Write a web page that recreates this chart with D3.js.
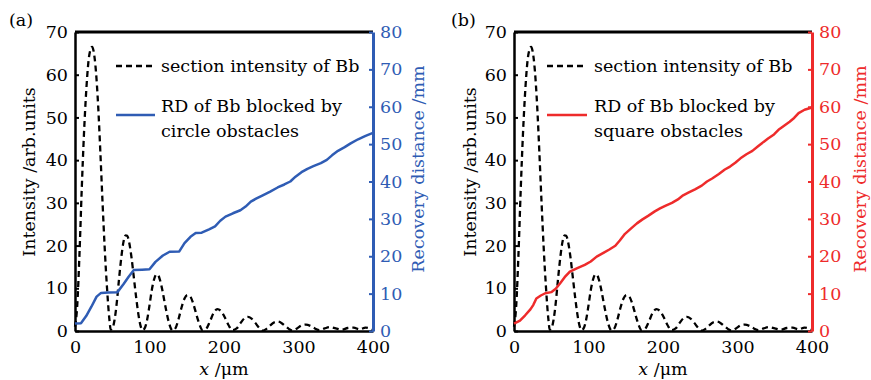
<!DOCTYPE html>
<html>
<head>
<meta charset="utf-8">
<script src="https://cdn.jsdelivr.net/npm/d3@7/dist/d3.min.js"></script>
<style>
  body { margin: 0; background: #fff; }
</style>
</head>
<body>
<script>
// chart size
var w = 871, h = 380;
var FONT = "DejaVu Serif", FS = 17.5;

// tick values
var xTicks = [0, 100, 200, 300, 400];
var intensityTicks = [0, 10, 20, 30, 40, 50, 60, 70];
var rdTicks = [0, 10, 20, 30, 40, 50, 60, 70, 80];

// section intensity of Bb
var intensityX = [0, 3, 6, 9, 12, 15, 18, 21, 23, 25, 28, 31, 34, 37, 40, 43, 46, 48,
  50, 53, 56, 59, 62, 65, 68, 70, 73, 76, 79, 82, 85, 88, 91,
  94, 97, 100, 103, 106, 109, 111, 114, 117, 120, 123, 126, 129, 131,
  135, 139, 143, 147, 151, 155, 159, 163, 167, 171,
  176, 181, 186, 191, 196, 201, 206, 211,
  217, 222, 227, 232, 237, 242, 247, 252,
  257, 262, 267, 272, 277, 282, 287, 292,
  298, 304, 310, 316, 322, 328,
  335, 342, 350, 358, 366, 374, 382, 390, 396, 400];
var intensityY = [1, 6, 18, 33, 46, 56, 63, 66, 66.5, 65.5, 61, 53, 42, 30, 19, 10, 3, 0.3,
  0.5, 2.5, 6.5, 12, 17, 20.8, 22.4, 22.3, 20.5, 17, 12.5, 8, 4, 1.2, 0.2,
  0.8, 2.8, 6, 9.5, 12, 13.2, 13.2, 12, 9.8, 7, 4.3, 2, 0.5, 0.1,
  0.7, 2.8, 5.5, 7.6, 8.4, 8, 6.3, 3.8, 1.6, 0.2,
  0.5, 2.2, 4.2, 5.1, 4.7, 3.2, 1.4, 0.2,
  0.6, 1.8, 2.9, 3.3, 2.9, 1.9, 0.8, 0.1,
  0.5, 1.3, 2, 2.2, 1.9, 1.2, 0.5, 0.1,
  0.6, 1.3, 1.5, 1.2, 0.6, 0.2,
  0.6, 0.9, 0.6, 0.3, 0.7, 0.8, 0.4, 0.8, 0.6, 0.3];

// recovery distance, circle obstacles (a)
var circleX = [0, 8, 15, 22, 29, 35, 45, 57, 65, 72, 79, 90, 100, 108, 118, 127, 140, 147, 155, 162, 170,
  180, 188, 195, 202, 212, 222, 229, 236, 243, 252, 262, 272, 281, 289, 296, 304, 312, 320, 330,
  338, 345, 353, 362, 370, 380, 390, 400];
var circleRD = [2, 2.1, 4, 6.5, 9.2, 10.2, 10.3, 10.4, 12.5, 14.5, 16.3, 16.4, 16.5, 18.5, 20.2, 21.2, 21.3, 23.5, 25.2, 26.2, 26.3,
  27.2, 28, 29.5, 30.6, 31.5, 32.3, 33.3, 34.6, 35.4, 36.3, 37.3, 38.4, 39.2, 40, 41.3, 42.5, 43.4, 44.1, 44.9,
  45.8, 47, 48.2, 49.2, 50.2, 51.3, 52.2, 53];

// recovery distance, square obstacles (b)
var squareX = [0, 8, 15, 22, 26, 30, 36, 42, 50, 56, 62, 68, 75, 85, 95, 103, 111, 120, 128, 136, 142, 149,
  158, 165, 172, 180, 189, 196, 203, 212, 220, 227, 234, 243, 252, 259, 266, 275, 283, 290, 297,
  304, 312, 320, 328, 335, 341, 349, 356, 363, 370, 376, 382, 390, 400];
var squareRD = [2, 2.8, 4.2, 5.8, 7, 8.7, 9.5, 10.1, 10.4, 11.3, 12.8, 14.4, 15.9, 16.8, 17.7, 18.6, 19.9, 20.9, 21.8, 22.8, 24.2, 26,
  27.6, 28.8, 29.8, 30.8, 32, 32.8, 33.5, 34.3, 35.2, 36.3, 37, 37.9, 38.9, 40, 40.8, 42, 43.2, 44, 45,
  46.2, 47.3, 48.2, 49.5, 50.6, 51.5, 52.6, 54, 55, 56, 57, 58.3, 59.2, 59.8];

var svg = d3.select("body").append("svg")
  .attr("width", w)
  .attr("height", h)
  .attr("font-family", FONT);

function styleText(sel, color) {
  sel.attr("font-family", FONT).attr("font-size", FS).attr("fill", color || "#000");
}

function drawPanel(p) {
  var left = p.left, right = p.right, top = 32, bottom = 331;

  var x = d3.scaleLinear().domain([0, 400]).range([left, right]);
  var yI = d3.scaleLinear().domain([0, 70]).range([bottom, top]);
  var yR = d3.scaleLinear().domain([0, 80]).range([bottom, top]);

  var g = svg.append("g").attr("class", "panel");

  // top frame
  g.append("line")
    .attr("x1", left).attr("x2", right)
    .attr("y1", top).attr("y2", top)
    .attr("stroke", "#000").attr("stroke-width", 3);

  // left axis (ticks inward)
  var ax = g.append("g")
    .attr("transform", "translate(" + left + ",0)")
    .call(d3.axisLeft(yI).tickValues(intensityTicks).tickSizeInner(-4).tickSizeOuter(0).tickPadding(7));
  ax.select(".domain").attr("stroke-width", 2.5);
  ax.selectAll(".tick line").attr("stroke-width", 2);
  styleText(ax.selectAll("text"));

  // bottom axis
  var bx = g.append("g")
    .attr("transform", "translate(0," + bottom + ")")
    .call(d3.axisBottom(x).tickValues(xTicks).tickSize(0).tickPadding(10));
  bx.select(".domain").attr("stroke-width", 2.5);
  styleText(bx.selectAll("text"));

  // curves
  var intensityLine = d3.line()
    .x(function(d, i) { return x(intensityX[i]); })
    .y(function(d) { return yI(d); })
    .curve(d3.curveMonotoneX);
  g.append("path")
    .attr("d", intensityLine(intensityY))
    .attr("fill", "none")
    .attr("stroke", "#000")
    .attr("stroke-width", 2.3)
    .attr("stroke-dasharray", "6,4");

  var rdLine = d3.line()
    .x(function(d, i) { return x(p.rdX[i]); })
    .y(function(d) { return yR(d); });
  g.append("path")
    .attr("d", rdLine(p.rd))
    .attr("fill", "none")
    .attr("stroke", p.color)
    .attr("stroke-width", 2.5)
    .attr("stroke-linejoin", "round");

  // right axis (colored, ticks inward)
  var rx = g.append("g")
    .attr("transform", "translate(" + right + ",0)")
    .call(d3.axisRight(yR).tickValues(rdTicks).tickSizeInner(-4).tickSizeOuter(0).tickPadding(7));
  rx.select(".domain").attr("stroke", p.color).attr("stroke-width", 3);
  rx.selectAll(".tick line").attr("stroke", p.color).attr("stroke-width", 2);
  styleText(rx.selectAll("text"), p.color);

  // axis titles
  styleText(g.append("text")
    .attr("transform", "translate(" + p.leftTitleX + ",172) rotate(-90)")
    .attr("text-anchor", "middle")
    .text("Intensity /arb.units"));

  styleText(g.append("text")
    .attr("transform", "translate(" + p.rightTitleX + ",169) rotate(-90)")
    .attr("text-anchor", "middle")
    .text("Recovery distance /mm"), p.color);

  var xt = g.append("text")
    .attr("x", (left + right) / 2)
    .attr("y", 375)
    .attr("text-anchor", "middle");
  styleText(xt);
  xt.append("tspan").attr("font-style", "italic").text("x");
  xt.append("tspan").text(" /\u03bcm");

  // panel label
  styleText(g.append("text")
    .attr("x", p.labelX)
    .attr("y", 26)
    .text(p.label));

  // legend
  var lg = g.append("g").attr("class", "legend");
  lg.append("line")
    .attr("x1", left + p.legSample[0]).attr("x2", left + p.legSample[1])
    .attr("y1", 66).attr("y2", 66)
    .attr("stroke", "#000").attr("stroke-width", 2.5)
    .attr("stroke-dasharray", "6,4");
  styleText(lg.append("text")
    .attr("x", left + p.legText)
    .attr("y", 72)
    .text("section intensity of Bb"));
  lg.append("line")
    .attr("x1", left + p.legSample[0]).attr("x2", left + p.legSample[1])
    .attr("y1", 115).attr("y2", 115)
    .attr("stroke", p.color).attr("stroke-width", 2.5);
  styleText(lg.append("text")
    .attr("x", left + p.legText)
    .attr("y", 112)
    .text("RD of Bb blocked by"));
  styleText(lg.append("text")
    .attr("x", left + p.legText)
    .attr("y", 137)
    .text(p.legLine2));
}

drawPanel({
  left: 75, right: 373, color: "#2f5cb4",
  rdX: circleX, rd: circleRD,
  leftTitleX: 35, rightTitleX: 424, labelX: 9, label: "(a)",
  legSample: [41, 80], legText: 86, legLine2: "circle obstacles"
});

drawPanel({
  left: 514, right: 812, color: "#ee2b2b",
  rdX: squareX, rd: squareRD,
  leftTitleX: 476, rightTitleX: 866, labelX: 451, label: "(b)",
  legSample: [33, 73], legText: 80, legLine2: "square obstacles"
});
</script>
</body>
</html>
